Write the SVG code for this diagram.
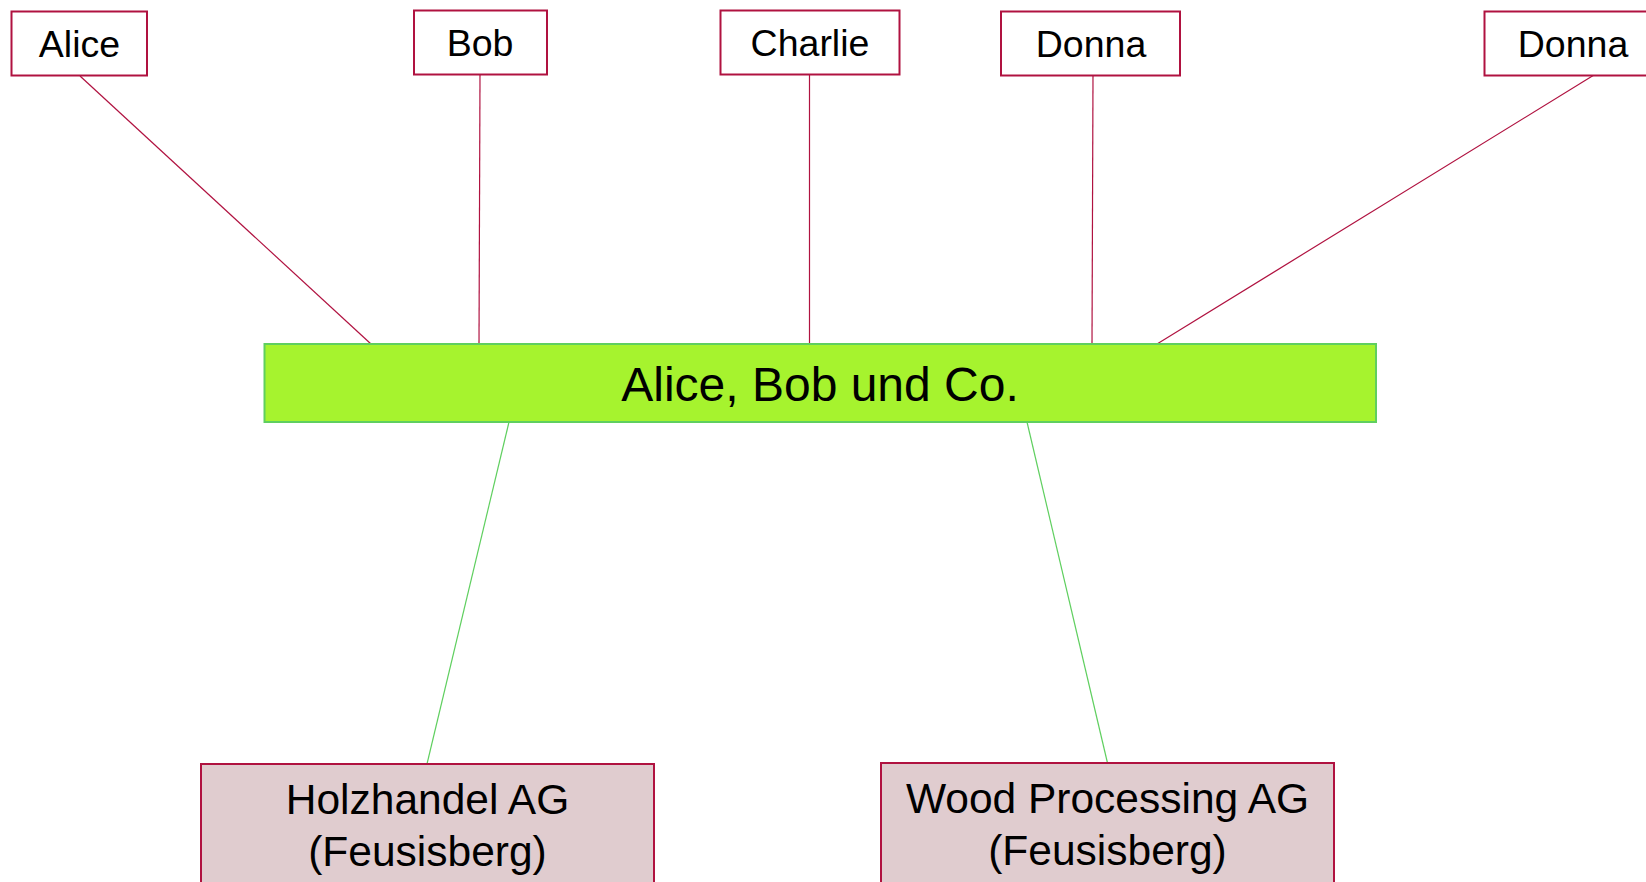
<svg xmlns="http://www.w3.org/2000/svg" width="1646" height="882" viewBox="0 0 1646 882">
<style>
.top{fill:#ffffff;stroke:#b01240;stroke-width:2}
.main{fill:#a6f32e;stroke:#5fcf5f;stroke-width:2}
.bot{fill:#e0cccf;stroke:#b01240;stroke-width:2}
.t{font-family:"Liberation Sans",Arial,sans-serif;fill:#000;text-anchor:middle}
.rl{stroke:#b01240;stroke-width:1.2;fill:none}
.gl{stroke:#5fcf5f;stroke-width:1.2;fill:none}
</style>
<rect width="1646" height="882" fill="#ffffff"/>
<g id="connectors">
<line class="rl" x1="80" y1="76" x2="371" y2="344"/>
<line class="rl" x1="480" y1="75" x2="479" y2="344"/>
<line class="rl" x1="809.5" y1="75" x2="809.5" y2="344"/>
<line class="rl" x1="1093" y1="76" x2="1092" y2="344"/>
<line class="rl" x1="1594" y1="75" x2="1157" y2="344"/>
<line class="gl" x1="509" y1="422" x2="427" y2="764"/>
<line class="gl" x1="1027" y1="422" x2="1107.5" y2="763"/>
</g>
<g id="alice">
<rect class="top" x="11.5" y="11.5" width="135.5" height="64"/>
<text class="t" x="79.5" y="56.5" font-size="37.5">Alice</text>
</g>
<g id="bob">
<rect class="top" x="414" y="10.5" width="133" height="64"/>
<text class="t" x="480" y="55.5" font-size="37.5">Bob</text>
</g>
<g id="charlie">
<rect class="top" x="720.5" y="10.5" width="179" height="64"/>
<text class="t" x="810" y="55.5" font-size="37.5">Charlie</text>
</g>
<g id="donna1">
<rect class="top" x="1001" y="11.5" width="179" height="64"/>
<text class="t" x="1091" y="56.5" font-size="37.5">Donna</text>
</g>
<g id="donna2">
<rect class="top" x="1484.5" y="11.5" width="179" height="64"/>
<text class="t" x="1573" y="56.5" font-size="37.5">Donna</text>
</g>
<g id="main">
<rect class="main" x="264.5" y="344" width="1111.5" height="78"/>
<text class="t" x="820" y="401" font-size="48">Alice, Bob und Co.</text>
</g>
<g id="holzhandel">
<rect class="bot" x="201" y="764" width="453" height="130"/>
<text class="t" x="427.5" y="814" font-size="42.5">Holzhandel AG</text>
<text class="t" x="427.5" y="866" font-size="42.5">(Feusisberg)</text>
</g>
<g id="wood">
<rect class="bot" x="881" y="763" width="453" height="130"/>
<text class="t" x="1107.5" y="813" font-size="42.5">Wood Processing AG</text>
<text class="t" x="1107.5" y="865" font-size="42.5">(Feusisberg)</text>
</g>
</svg>
